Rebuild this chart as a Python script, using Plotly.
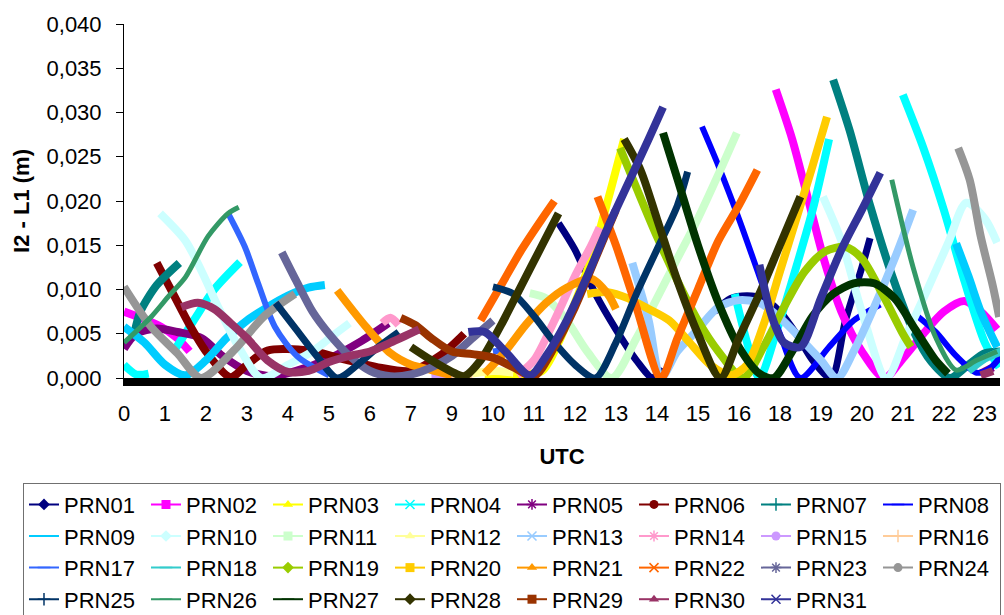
import plotly.graph_objects as go

# ---------------- axis data ----------------
utc_labels = ["0", "1", "2", "3", "4", "5", "6", "7", "9", "10", "11", "12", "13", "14",
              "15", "16", "18", "19", "20", "21", "22", "23"]
utc_pos = list(range(len(utc_labels)))
y_ticks = [0.000, 0.005, 0.010, 0.015, 0.020, 0.025, 0.030, 0.035, 0.040]

# ---------------- series data (x = position on the UTC category axis, y = I2 - L1 in m) ----------------
prn01_x = [10.6, 11.0, 11.5, 12.0, 12.5, 12.9, 13.1, None, 14.4, 14.8, 15.2, 15.6, 16.0, 16.4, 16.8, 17.25, 17.6, 18.0, 18.2]
prn01_y = [0.0175, 0.0145, 0.0095, 0.0055, 0.002, 0.0, 0.0012, None, 0.0075, 0.009, 0.0093, 0.009, 0.0075, 0.005, 0.002, 0.0, 0.0065, 0.0125, 0.0158]

prn02_x = [0.0, 0.4, 0.9, 1.3, 1.6, None, 15.9, 16.3, 16.7, 17.1, 17.5, 18.0, 18.55, 19.0, 19.5, 20.0, 20.5, 20.9, 21.3]
prn02_y = [0.0075, 0.0068, 0.0058, 0.0045, 0.003, None, 0.0326, 0.027, 0.020, 0.013, 0.0075, 0.003, 0.0, 0.0022, 0.005, 0.0075, 0.0087, 0.0075, 0.0055]

prn03_x = [8.8, 9.5, 10.2, 10.6, 11.0, 11.4, 11.8, 12.2]
prn03_y = [0.0002, 0.0003, 0.0008, 0.004, 0.0085, 0.0135, 0.0200, 0.027]

prn04_x = [0.0, 0.3, 0.6, None, 1.24, 1.7, 2.2, 2.83, None, 14.9, 15.2, 15.5, 15.9, 16.3, 16.8, 17.2, None, 19.0, 19.5, 20.0, 20.5, 21.0, 21.35]
prn04_y = [0.0015, 0.0004, 0.0005, None, 0.0032, 0.0065, 0.0100, 0.0131, None, 0.0095, 0.004, 0.0, 0.005, 0.011, 0.019, 0.027, None, 0.032, 0.026, 0.019, 0.011, 0.004, 0.0012]

prn05_x = [0.0, 0.3, 0.8, 1.3, 1.9, 2.4, 3.0, 3.6, 4.2, 5.0, 5.8, 6.45, None, 20.9, 21.2]
prn05_y = [0.0033, 0.005, 0.0056, 0.0052, 0.0045, 0.0025, 0.0008, 0.0002, 0.0008, 0.0022, 0.0042, 0.0062, None, 0.0005, 0.0012]

prn06_x = [0.8, 1.2, 1.6, 2.0, 2.6, 3.0, 3.5, 4.5, 5.3, 6.2, 7.0, 7.7, 8.3]
prn06_y = [0.013, 0.0095, 0.006, 0.003, 0.0001, 0.0015, 0.0031, 0.0031, 0.0022, 0.0012, 0.0008, 0.0025, 0.0050]

prn07_x = [0.25, 0.4, 0.8, 1.35, None, 17.3, 17.7, 18.2, 18.75, 19.25, 19.7, 20.15, 20.6, 21.0, 21.4]
prn07_y = [0.005, 0.0075, 0.0105, 0.013, None, 0.0337, 0.028, 0.0195, 0.0114, 0.0054, 0.0018, 0.0, 0.0015, 0.0028, 0.003]

prn08_x = [14.1, 14.5, 15.0, 15.5, 16.0, 16.5, 17.2, 17.8, 18.45, None, 19.3, 19.8, 20.3, 20.8, 21.1, 21.4]
prn08_y = [0.0284, 0.024, 0.018, 0.0115, 0.005, 0.0, 0.0035, 0.0065, 0.0083, None, 0.0072, 0.0052, 0.0025, 0.0006, 0.001, 0.0025]

prn09_x = [0.0, 0.5, 1.0, 1.5, 2.0, 2.5, 3.0, 3.5, 4.0, 4.5, 4.9, None, 20.3, 20.6, 20.9, 21.3]
prn09_y = [0.0058, 0.004, 0.0015, 0.0003, 0.002, 0.0045, 0.0065, 0.008, 0.0093, 0.0102, 0.0105, None, 0.0152, 0.0115, 0.0075, 0.0035]

prn10_x = [0.88, 1.5, 1.9, 2.3, 2.8, 3.35, 4.0, 4.6, 5.1, 5.5, None, 17.05, 17.5, 18.0, 18.6, 19.1, 19.6, 20.1, 20.55, 21.0, 21.3]
prn10_y = [0.0186, 0.0155, 0.012, 0.008, 0.0035, 0.0, 0.0015, 0.003, 0.0048, 0.0062, None, 0.0205, 0.0155, 0.0075, 0.0, 0.005, 0.0100, 0.0152, 0.0198, 0.018, 0.0153]

prn11_x = [9.9, 10.3, 10.8, 11.3, 11.9, 12.5, 13.0, 13.5, 14.0, 14.5, 14.95]
prn11_y = [0.0096, 0.009, 0.0065, 0.003, 0.0, 0.0045, 0.009, 0.0135, 0.018, 0.023, 0.0277]

prn12_x = [8.5, 9.0, 9.5]
prn12_y = [0.0005, 0.0008, 0.0006]

prn13_x = [12.4, 12.8, 13.1, 13.5, 14.0, 14.5, 15.0, 15.5, 16.0, 16.5, 17.0, 17.4, 17.8, 18.3, 18.8, 19.25]
prn13_y = [0.013, 0.0065, 0.0, 0.003, 0.0055, 0.008, 0.0088, 0.0085, 0.0068, 0.0045, 0.002, 0.0, 0.003, 0.008, 0.0135, 0.019]

prn14_x = [6.3, 6.5, 6.7, None, 9.6, 10.0, 10.5, 11.0, 11.4, 11.6]
prn14_y = [0.0062, 0.0068, 0.006, None, 0.0003, 0.002, 0.0065, 0.0115, 0.015, 0.017]

prn15_x = [7.5, 8.0]
prn15_y = [0.0002, 0.0003]

prn16_x = [8.0, 8.5]
prn16_y = [0.0002, 0.0002]

prn17_x = [2.54, 2.95, 3.27, 3.68, 4.24, 5.0, None, 9.0, 9.3]
prn17_y = [0.0186, 0.0148, 0.0107, 0.0058, 0.0024, 0.0003, None, 0.003, 0.0032]

prn18_x = [20.6, 21.0, 21.4]
prn18_y = [0.0008, 0.0022, 0.003]

prn19_x = [12.1, 12.5, 13.0, 13.5, 14.0, 14.5, 15.1, 15.6, 16.1, 16.6, 17.1, 17.6, 18.0, 18.5, 19.0, 19.2]
prn19_y = [0.026, 0.0215, 0.016, 0.011, 0.0065, 0.003, 0.0, 0.0035, 0.008, 0.012, 0.0143, 0.0148, 0.0135, 0.0095, 0.005, 0.0035]

prn20_x = [11.3, 11.8, 12.3, 12.8, 13.3, 13.8, 14.3, 14.8, 15.2, 15.6, 16.0, 16.4, 16.8, 17.15]
prn20_y = [0.0095, 0.0097, 0.009, 0.0078, 0.0065, 0.004, 0.0015, 0.0003, 0.0015, 0.006, 0.012, 0.018, 0.024, 0.0295]

prn21_x = [5.2, 5.9, 6.5, 7.0, 7.5, 8.0, None, 8.8, 9.3, 9.8, 10.3, 10.8, 11.4, 11.8, 12.0]
prn21_y = [0.0099, 0.0058, 0.0028, 0.0015, 0.0009, 0.0003, None, 0.0005, 0.003, 0.006, 0.0085, 0.0102, 0.0112, 0.0095, 0.0078]

prn22_x = [8.7, 9.2, 9.7, 10.2, 10.5, None, 11.55, 12.0, 12.5, 13.1, 13.5, 14.0, 14.5, 15.0, 15.45]
prn22_y = [0.0065, 0.0105, 0.0145, 0.018, 0.020, None, 0.0205, 0.015, 0.008, 0.0, 0.0045, 0.010, 0.0155, 0.0195, 0.0235]

prn23_x = [3.85, 4.2, 4.6, 5.0, 5.5, 6.0, 6.5, 7.0, 7.5, 8.0, 8.5, 9.0]
prn23_y = [0.0142, 0.011, 0.0075, 0.005, 0.0025, 0.0008, 0.0002, 0.0004, 0.0012, 0.0025, 0.0045, 0.0065]

prn24_x = [0.0, 0.66, 1.3, 1.88, 2.7, 3.4, 4.17, None, 20.35, 20.63, 20.9, 21.2, 21.35]
prn24_y = [0.0103, 0.0058, 0.0028, 0.0, 0.0032, 0.0069, 0.0095, None, 0.026, 0.0224, 0.016, 0.0103, 0.0069]

prn25_x = [3.7, 4.2, 4.7, 5.2, 5.7, 6.2, 6.7, None, 9.0, 9.5, 10.0, 10.5, 11.0, 11.5, 12.0, 12.5, 13.0, 13.5, 13.75]
prn25_y = [0.0085, 0.0055, 0.0025, 0.0, 0.0015, 0.0035, 0.0052, None, 0.0103, 0.0095, 0.007, 0.004, 0.0015, 0.0, 0.004, 0.0095, 0.0145, 0.0195, 0.0233]

prn26_x = [0.0, 0.66, 1.1, 1.5, 2.05, 2.54, 2.8, None, 18.73, 19.25, 19.8, 20.3, 20.8, 21.3]
prn26_y = [0.004, 0.0069, 0.0093, 0.0114, 0.016, 0.0186, 0.0193, None, 0.0224, 0.0125, 0.0046, 0.0009, 0.002, 0.003]

prn27_x = [13.15, 13.5, 14.0, 14.5, 15.0, 15.5, 15.85, 16.3, 16.8, 17.3, 17.8, 18.3, 18.8, 19.3, 19.8, 20.1]
prn27_y = [0.0277, 0.0225, 0.015, 0.0085, 0.0035, 0.0005, 0.0, 0.003, 0.007, 0.0095, 0.0107, 0.0107, 0.009, 0.0055, 0.002, 0.0005]

prn28_x = [7.0, 7.5, 8.0, 8.3, 8.7, 9.2, 9.7, 10.2, 10.6, None, 12.2, 12.6, 13.0, 13.5, 14.0, 14.55, 15.0, 15.5, 16.0, 16.5]
prn28_y = [0.0035, 0.002, 0.0007, 0.0002, 0.002, 0.006, 0.0105, 0.015, 0.0186, None, 0.027, 0.0235, 0.018, 0.011, 0.005, 0.0, 0.0045, 0.0095, 0.015, 0.0205]

prn29_x = [6.75, 7.1, 7.5, 8.0, 8.5, 9.0, 9.5, 10.0, 10.5, 11.0, 11.5, 12.0]
prn29_y = [0.0068, 0.006, 0.0045, 0.003, 0.0027, 0.0023, 0.0012, 0.0002, 0.0035, 0.008, 0.0135, 0.019]

prn30_x = [1.4, 1.8, 2.2, 2.6, 3.0, 3.5, 4.0, 4.5, 5.0, 5.5, 6.0, 6.5, 7.2, None, 20.9, 21.2]
prn30_y = [0.008, 0.0085, 0.0078, 0.0062, 0.0045, 0.002, 0.0007, 0.0008, 0.0018, 0.0025, 0.003, 0.004, 0.0055, None, 0.0003, 0.0008]

prn31_x = [8.4, 8.8, 9.3, 9.9, 10.3, 10.8, 11.3, 11.8, 12.3, 12.8, 13.15, None, 15.5, 15.8, 16.1, 16.5, 17.0, 17.5, 18.0, 18.45]
prn31_y = [0.0052, 0.0052, 0.003, 0.0003, 0.0025, 0.0065, 0.0115, 0.017, 0.022, 0.027, 0.0306, None, 0.0128, 0.007, 0.004, 0.0035, 0.009, 0.0145, 0.019, 0.0232]

series_x = [prn01_x, prn02_x, prn03_x, prn04_x, prn05_x, prn06_x, prn07_x, prn08_x, prn09_x, prn10_x,
            prn11_x, prn12_x, prn13_x, prn14_x, prn15_x, prn16_x, prn17_x, prn18_x, prn19_x, prn20_x,
            prn21_x, prn22_x, prn23_x, prn24_x, prn25_x, prn26_x, prn27_x, prn28_x, prn29_x, prn30_x, prn31_x]
series_y = [prn01_y, prn02_y, prn03_y, prn04_y, prn05_y, prn06_y, prn07_y, prn08_y, prn09_y, prn10_y,
            prn11_y, prn12_y, prn13_y, prn14_y, prn15_y, prn16_y, prn17_y, prn18_y, prn19_y, prn20_y,
            prn21_y, prn22_y, prn23_y, prn24_y, prn25_y, prn26_y, prn27_y, prn28_y, prn29_y, prn30_y, prn31_y]
names = ["PRN%02d" % i for i in range(1, 32)]

# ---------------- styles ----------------
colors = ["#000080", "#FF00FF", "#FFFF00", "#00FFFF", "#800080", "#800000", "#008080", "#0000FF",
          "#00CCFF", "#CCFFFF", "#CCFFCC", "#FFFF99", "#99CCFF", "#FF99CC", "#CC99FF", "#FFCC99",
          "#3366FF", "#33CCCC", "#99CC00", "#FFCC00", "#FF9900", "#FF6600", "#666699", "#969696",
          "#003366", "#339966", "#003300", "#333300", "#993300", "#993366", "#333399"]
symbols = ["diamond", "square", "triangle-up", "x-thin-open", "asterisk-open", "circle", "cross-thin-open", "line-ew-open",
           "line-ew-open", "diamond", "square", "triangle-up", "x-thin-open", "asterisk-open", "circle", "cross-thin-open",
           "line-ew-open", "line-ew-open", "diamond", "square", "triangle-up", "x-thin-open", "asterisk-open", "circle",
           "cross-thin-open", "line-ew-open", "line-ew-open", "diamond", "square", "triangle-up", "x-thin-open"]
widths = [7, 8, 8, 8, 8, 8, 8, 6, 8, 8, 8, 8, 8, 8, 8, 8, 6, 8, 8, 8, 8, 8, 8, 8, 7, 5, 8, 8, 8, 8, 8]

FONT = "Arial, 'Liberation Sans', sans-serif"

fig = go.Figure()
for i in range(31):
    fig.add_trace(go.Scatter(
        x=series_x[i], y=series_y[i], mode="lines", name=names[i],
        legendgroup=names[i], showlegend=False, connectgaps=False,
        line=dict(color=colors[i], width=widths[i], shape="spline", smoothing=0.8),
        hoverinfo="skip"))
for i in range(31):
    open_sym = symbols[i].endswith("-open")
    fig.add_trace(go.Scatter(
        x=[None], y=[None], mode="lines+markers", name=names[i], legendgroup=names[i],
        line=dict(color=colors[i], width=2),
        marker=dict(symbol=symbols[i], size=9, color=colors[i],
                    line=dict(color=colors[i], width=1.5 if open_sym else 0))))

fig.update_layout(
    width=1004, height=615,
    margin=dict(l=124, r=4, t=24, b=237, autoexpand=False),
    paper_bgcolor="white", plot_bgcolor="white",
    separators=",.",
    font=dict(family=FONT, size=22, color="black"),
    showlegend=True,
    legend=dict(
        orientation="h", xref="paper", yref="paper", x=-0.1153, y=-0.2955,
        xanchor="left", yanchor="top",
        entrywidth=77, entrywidthmode="pixels",
        bordercolor="#707070", borderwidth=1, bgcolor="white",
        font=dict(family=FONT, size=22, color="black"),
        itemclick=False, itemdoubleclick=False, traceorder="normal"),
    xaxis=dict(
        range=[0, 21.37], tickmode="array", tickvals=utc_pos, ticktext=utc_labels,
        showgrid=False, zeroline=False, showline=True, linecolor="black", linewidth=8,
        ticks="", ticklabelstandoff=9, automargin=False,
        tickfont=dict(family=FONT, size=22, color="black"),
        title=dict(text="UTC", standoff=26, font=dict(family=FONT, size=22, color="black", weight="bold"))),
    yaxis=dict(
        range=[0, 0.040], tickmode="array", tickvals=y_ticks, tickformat=".3f",
        showgrid=False, zeroline=False, showline=True, linecolor="black", linewidth=1,
        ticks="outside", ticklen=7, tickcolor="black", tickwidth=1, ticklabelstandoff=10, automargin=False,
        tickfont=dict(family=FONT, size=22, color="black"),
        title=dict(text="I2 - L1 (m)", standoff=10, font=dict(family=FONT, size=22, color="black", weight="bold"))),
)

fig.write_html("out.html")
